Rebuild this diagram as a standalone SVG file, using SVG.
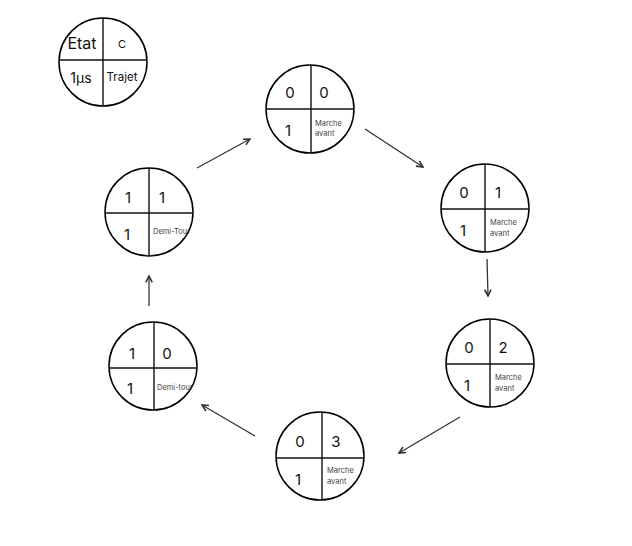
<svg xmlns="http://www.w3.org/2000/svg" width="632" height="546" viewBox="0 0 632 546">
<style>
.c{fill:#fff;stroke:#000;stroke-width:1.5}
.d{stroke:#111;stroke-width:1.4}
.n{font-family:Inter,"Liberation Sans",sans-serif;font-size:15px;fill:#111;text-anchor:middle}
.s{font-family:Inter,"Liberation Sans",sans-serif;font-size:7.5px;fill:#444}
.e{stroke:#333;stroke-width:1.3;fill:none;marker-end:url(#a)}
</style>
<defs>
<marker id="a" viewBox="0 0 10 10" refX="9" refY="5" markerWidth="8" markerHeight="8" markerUnits="userSpaceOnUse" orient="auto">
<path d="M1,1 L9,5 L1,9" fill="none" stroke="#333" stroke-width="2"/>
</marker>
</defs>
<rect width="632" height="546" fill="#fff"/>
<g id="legend">
<circle class="c" cx="103" cy="62" r="44"/>
<line class="d" x1="103" y1="18" x2="103" y2="106"/>
<line class="d" x1="59" y1="60" x2="147" y2="60"/>
<text x="82" y="49" font-family="Inter,'Liberation Sans',sans-serif" font-size="16" fill="#111" text-anchor="middle">Etat</text>
<text x="122" y="48" font-family="Inter,'Liberation Sans',sans-serif" font-size="11" fill="#111" text-anchor="middle">C</text>
<text x="81" y="83" font-family="Inter,'Liberation Sans',sans-serif" font-size="14" fill="#111" text-anchor="middle">1µs</text>
<text x="122" y="81" font-family="Inter,'Liberation Sans',sans-serif" font-size="11.5" fill="#111" text-anchor="middle">Trajet</text>
</g>
<g id="n1">
<circle class="c" cx="310" cy="109" r="44"/>
<line class="d" x1="311" y1="65" x2="311" y2="153"/>
<line class="d" x1="266" y1="109" x2="354" y2="109"/>
<text class="n" x="290" y="98">0</text>
<text class="n" x="324" y="98">0</text>
<text class="n" x="288" y="136">1</text>
<text class="s" x="315" y="126">Marche</text>
<text class="s" x="315" y="136">avant</text>
</g>
<g id="n2">
<circle class="c" cx="485" cy="208" r="44"/>
<line class="d" x1="485" y1="164" x2="485" y2="252"/>
<line class="d" x1="441" y1="209" x2="529" y2="209"/>
<text class="n" x="464" y="198">0</text>
<text class="n" x="498" y="198">1</text>
<text class="n" x="463" y="236">1</text>
<text class="s" x="490" y="225">Marche</text>
<text class="s" x="490" y="236">avant</text>
</g>
<g id="n3">
<circle class="c" cx="490" cy="363" r="44"/>
<line class="d" x1="490" y1="319" x2="490" y2="407"/>
<line class="d" x1="446" y1="364" x2="534" y2="364"/>
<text class="n" x="469" y="353">0</text>
<text class="n" x="503" y="353">2</text>
<text class="n" x="467" y="391">1</text>
<text class="s" x="495" y="380">Marche</text>
<text class="s" x="495" y="391">avant</text>
</g>
<g id="n4">
<circle class="c" cx="320" cy="456" r="44"/>
<line class="d" x1="322" y1="412" x2="322" y2="500"/>
<line class="d" x1="276" y1="458" x2="364" y2="458"/>
<text class="n" x="300" y="447">0</text>
<text class="n" x="336" y="447">3</text>
<text class="n" x="298" y="485">1</text>
<text class="s" x="327" y="473">Marche</text>
<text class="s" x="327" y="484">avant</text>
</g>
<g id="n5">
<circle class="c" cx="153" cy="366" r="44"/>
<line class="d" x1="154" y1="322" x2="154" y2="410"/>
<line class="d" x1="109" y1="368" x2="197" y2="368"/>
<text class="n" x="132" y="359">1</text>
<text class="n" x="167" y="359">0</text>
<text class="n" x="130" y="394">1</text>
<text class="s" x="157" y="390">Demi-tour</text>
</g>
<g id="n6">
<circle class="c" cx="149" cy="212" r="44"/>
<line class="d" x1="149" y1="168" x2="149" y2="256"/>
<line class="d" x1="105" y1="213" x2="193" y2="213"/>
<text class="n" x="128" y="203">1</text>
<text class="n" x="162" y="203">1</text>
<text class="n" x="127" y="240">1</text>
<text class="s" x="153" y="234">Demi-Tour</text>
</g>
<g id="connectors">
<line class="e" x1="197" y1="168" x2="250" y2="139"/>
<line class="e" x1="365" y1="129" x2="423" y2="167"/>
<line class="e" x1="487" y1="259" x2="488" y2="296"/>
<line class="e" x1="460" y1="417" x2="399" y2="453"/>
<line class="e" x1="255" y1="436" x2="202" y2="405"/>
<line class="e" x1="149" y1="306" x2="149" y2="276"/>
</g>
</svg>
